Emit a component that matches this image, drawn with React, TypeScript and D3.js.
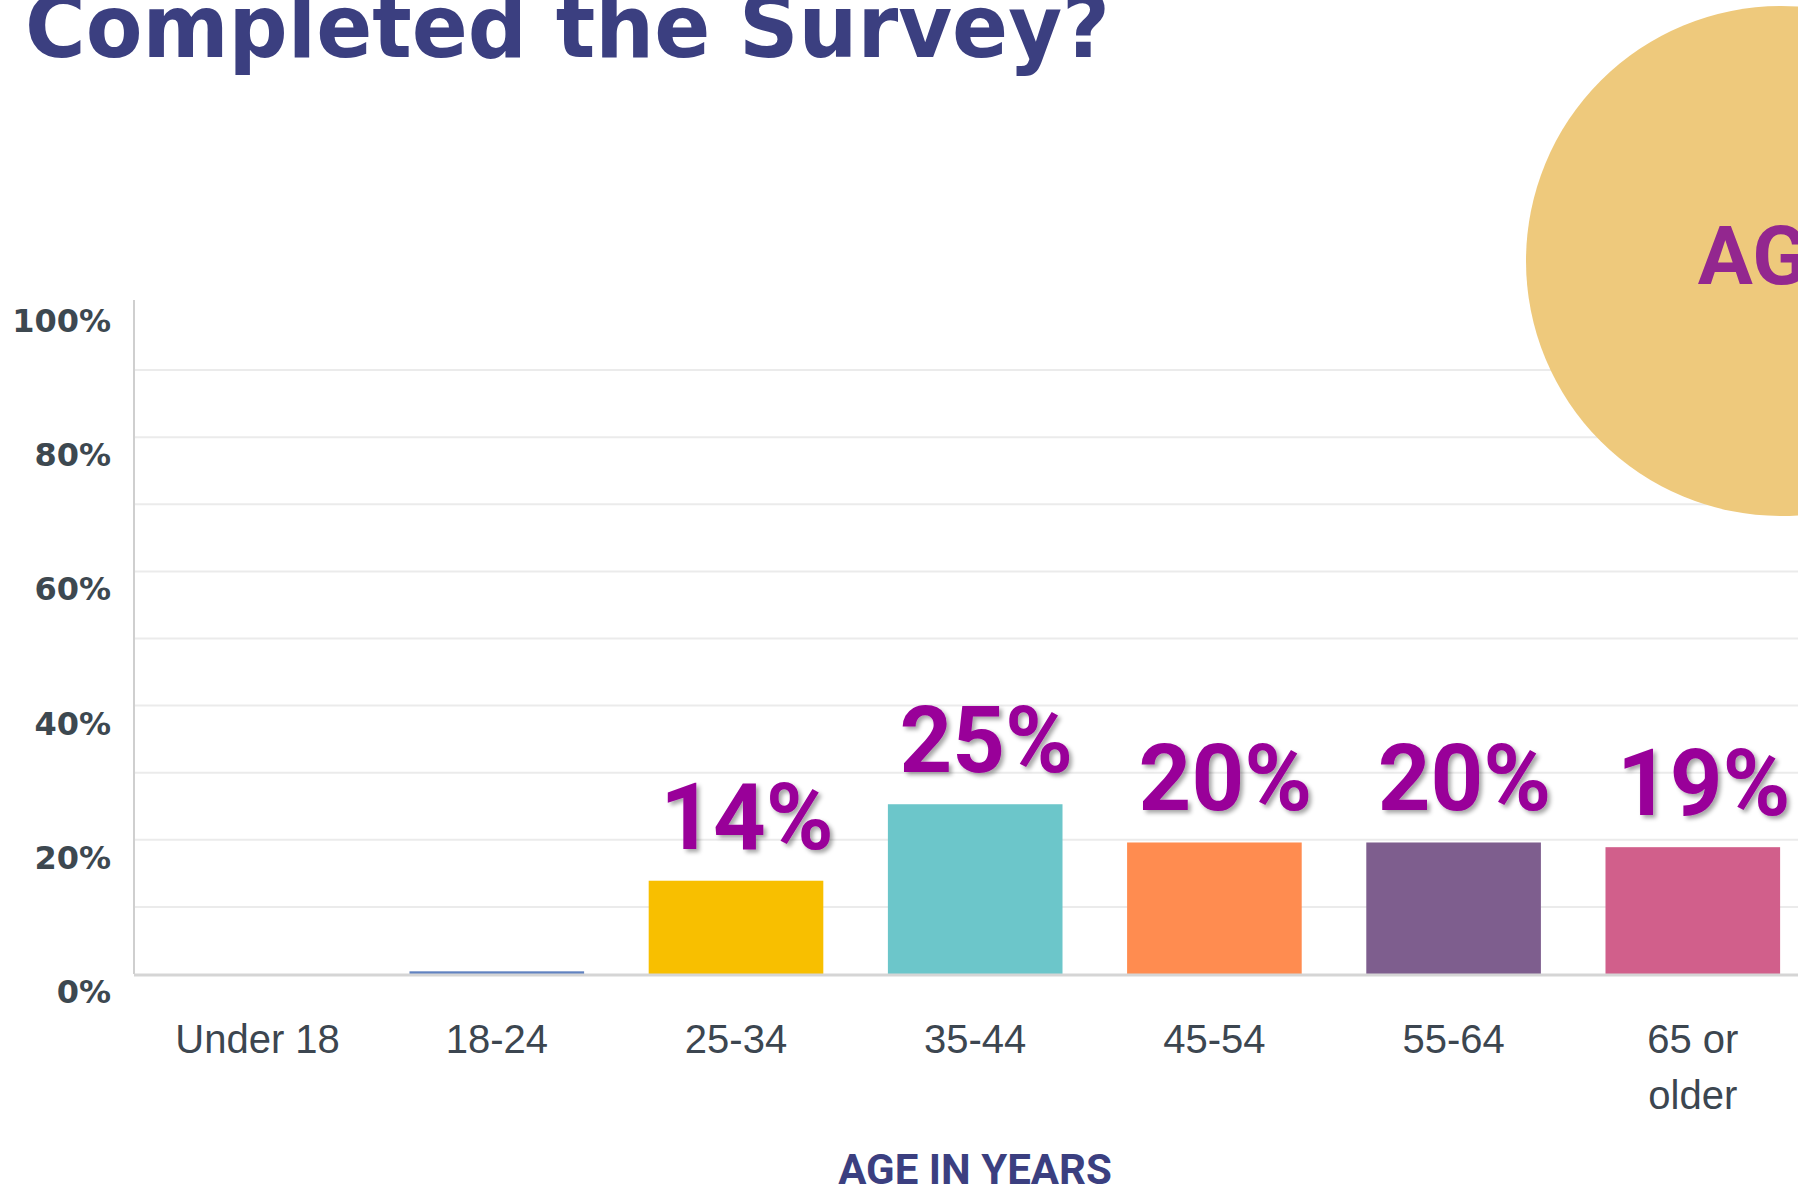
import { useEffect, useRef } from "react";
import * as d3 from "d3";

// ── Data ───────────────────────────────────────────────────────
const categories = ["Under 18", "18-24", "25-34", "35-44", "45-54", "55-64", "65 or older"];
const shares = [0, 0.4, 13.9, 25.3, 19.6, 19.6, 18.9]; // percent of respondents
const shareLabels = ["", "", "14%", "25%", "20%", "20%", "19%"];
const barColors = ["#6182c0", "#6182c0", "#f8bf00", "#6cc6ca", "#ff8c50", "#7e5e8e", "#d15f8b"];
const yTicks = [0, 20, 40, 60, 80, 100];
const gridTicks = [10, 20, 30, 40, 50, 60, 70, 80, 90];

const title = "Completed the Survey?";
const xTitle = "AGE IN YEARS";
const badgeText = "AGE";

export default function App() {
  const svgRef = useRef<SVGSVGElement>(null);

  useEffect(() => {
    document.body.style.margin = "0";
    if (!svgRef.current) return;

    const svg = d3.select(svgRef.current);
    svg.selectAll("*").remove();

    const width = 1798;
    const height = 1191;
    svg.attr("width", width).attr("height", height).attr("viewBox", `0 0 ${width} ${height}`)
      .style("background", "white").style("display", "block");

    // drop shadow for the big value labels
    const defs = svg.append("defs");
    const f = defs.append("filter").attr("id", "shadow").attr("x", "-20%").attr("y", "-20%")
      .attr("width", "150%").attr("height", "150%");
    f.append("feDropShadow").attr("dx", 3).attr("dy", 3).attr("stdDeviation", 2)
      .attr("flood-color", "#000").attr("flood-opacity", 0.35);

    // ── Scales ────────────────────────────────────────────────
    const axisX = 134;
    const x0 = 138;
    const step = 239.2;
    const x = d3.scaleBand<string>()
      .domain(categories)
      .range([x0, x0 + step * categories.length])
      .paddingInner(0.27)
      .paddingOuter(0.135);

    const y = d3.scaleLinear().domain([0, 100]).range([974, 303]);

    // ── Grid ──────────────────────────────────────────────────
    gridTicks.forEach((t) => {
      svg.append("line")
        .attr("x1", axisX).attr("x2", width)
        .attr("y1", y(t)).attr("y2", y(t))
        .attr("stroke", "#ebebeb").attr("stroke-width", 2);
    });

    // ── Badge circle (top right, above the grid) ──────────────
    svg.append("ellipse")
      .attr("cx", 1781).attr("cy", 261)
      .attr("rx", 255).attr("ry", 255)
      .attr("fill", "#eec97c");

    svg.append("text")
      .attr("x", 1776).attr("y", 284)
      .attr("text-anchor", "middle")
      .attr("font-family", "Roboto, sans-serif")
      .attr("font-weight", "bold")
      .attr("font-size", 82)
      .attr("fill", "#93278f")
      .text(badgeText);

    // ── Title (cut off at top) ────────────────────────────────
    svg.append("text")
      .attr("x", 25).attr("y", 57)
      .attr("font-family", "'DejaVu Sans', sans-serif")
      .attr("font-weight", "bold")
      .attr("font-size", 88)
      .attr("textLength", 1085)
      .attr("lengthAdjust", "spacingAndGlyphs")
      .attr("fill", "#3b3f80")
      .text(title);

    // y axis line
    svg.append("line")
      .attr("x1", axisX).attr("x2", axisX)
      .attr("y1", y(100) - 3).attr("y2", y(0))
      .attr("stroke", "#cfcfcf").attr("stroke-width", 2);

    // ── Y labels (sit a bit below their gridline) ─────────────
    yTicks.forEach((t) => {
      svg.append("text")
        .attr("x", 111).attr("y", y(t) + 18)
        .attr("text-anchor", "end")
        .attr("dominant-baseline", "central")
        .attr("font-family", "'DejaVu Sans', sans-serif")
        .attr("font-weight", "bold")
        .attr("font-size", 32)
        .attr("fill", "#3d4850")
        .text(`${t}%`);
    });

    // ── Bars ──────────────────────────────────────────────────
    categories.forEach((c, i) => {
      if (shares[i] <= 0) return;
      svg.append("rect")
        .attr("x", x(c)!)
        .attr("y", y(shares[i]))
        .attr("width", x.bandwidth())
        .attr("height", y(0) - y(shares[i]))
        .attr("fill", barColors[i]);
    });

    svg.append("line")
      .attr("x1", axisX).attr("x2", width)
      .attr("y1", y(0) + 1).attr("y2", y(0) + 1)
      .attr("stroke", "#d5d5d5").attr("stroke-width", 3);

    // ── Value labels ──────────────────────────────────────────
    categories.forEach((c, i) => {
      if (!shareLabels[i]) return;
      svg.append("text")
        .attr("x", x(c)! + x.bandwidth() / 2 + 11)
        .attr("y", y(shares[i]) - 32)
        .attr("text-anchor", "middle")
        .attr("font-family", "Roboto, sans-serif")
        .attr("font-weight", "bold")
        .attr("font-size", 92)
        .attr("fill", "#990099")
        .attr("filter", "url(#shadow)")
        .text(shareLabels[i]);
    });

    // ── X labels ──────────────────────────────────────────────
    categories.forEach((c) => {
      const lines = c === "65 or older" ? ["65 or", "older"] : [c];
      lines.forEach((ln, j) => {
        svg.append("text")
          .attr("x", x(c)! + x.bandwidth() / 2)
          .attr("y", 1053 + j * 56)
          .attr("text-anchor", "middle")
          .attr("font-family", "'Liberation Sans', Arial, sans-serif")
          .attr("font-size", 40)
          .attr("fill", "#3c4650")
          .text(ln);
      });
    });

    // x axis title
    svg.append("text")
      .attr("x", 975).attr("y", 1184)
      .attr("text-anchor", "middle")
      .attr("font-family", "Roboto, sans-serif")
      .attr("font-weight", "bold")
      .attr("font-size", 42)
      .attr("fill", "#3b3f80")
      .text(xTitle);
  }, []);

  return <svg ref={svgRef} />;
}
